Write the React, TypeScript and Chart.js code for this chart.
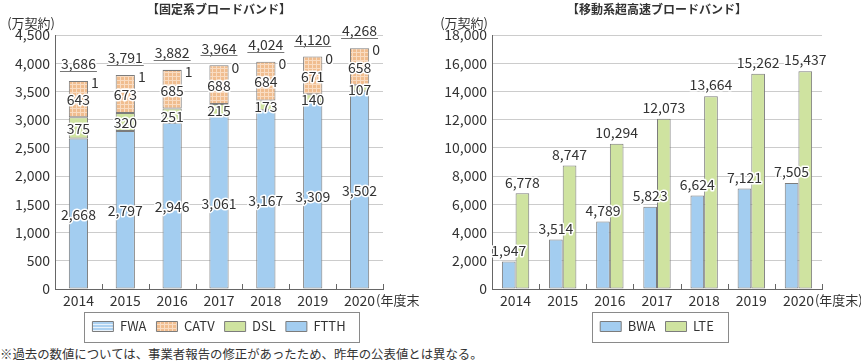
import React, { useEffect, useRef } from "react";
import { Chart, registerables } from "chart.js";

Chart.register(...registerables);

// ---------- data ----------
const years = ["2014", "2015", "2016", "2017", "2018", "2019", "2020"];
const ftth = [2668, 2797, 2946, 3061, 3167, 3309, 3502];
const dsl = [375, 320, 251, 215, 173, 140, 107];
const catv = [643, 673, 685, 688, 684, 671, 658];
const fwa = [1, 1, 1, 0, 0, 0, 0];
const fixedTotals = [3686, 3791, 3882, 3964, 4024, 4120, 4268];
const bwa = [1947, 3514, 4789, 5823, 6624, 7121, 7505];
const lte = [6778, 8747, 10294, 12073, 13664, 15262, 15437];

const fixedTitle = "【固定系ブロードバンド】";
const mobileTitle = "【移動系超高速ブロードバンド】";
const unitLabel = "(万契約)";
const xUnitLabel = "(年度末)";
const footnote =
  "※過去の数値については、事業者報告の修正があったため、昨年の公表値とは異なる。";
const fixedYMax = 4500;
const fixedYStep = 500;
const mobileYMax = 18000;
const mobileYStep = 2000;

// ---------- styles ----------
const FONT = "'Noto Sans CJK JP', 'Noto Sans', sans-serif";
const TEXT = "#333333";
const BLUE = "#a3cdf0";
const GREEN = "#cfe3a0";
const BORDER = "#7c7c7c";
const GRID = "#cccccc";
const AXIS = "#666666";

const fmt = (v: number) => v.toLocaleString("en-US");

function makePattern(kind: "check" | "stripe"): CanvasPattern | string {
  const c = document.createElement("canvas");
  const g = c.getContext("2d");
  if (!g) return kind === "check" ? "#f3c49b" : BLUE;
  if (kind === "check") {
    c.width = 4;
    c.height = 4;
    g.fillStyle = "#f0bd8f";
    g.fillRect(0, 0, 4, 4);
    g.fillStyle = "#f9dcc2";
    g.fillRect(0, 0, 4, 1);
    g.fillRect(0, 0, 1, 4);
  } else {
    c.width = 3;
    c.height = 3;
    g.fillStyle = "#acd1f1";
    g.fillRect(0, 0, 3, 3);
    g.fillStyle = "#e8f2fb";
    g.fillRect(0, 0, 3, 1);
  }
  return g.createPattern(c, "repeat") || "#f3c49b";
}

function haloText(
  ctx: CanvasRenderingContext2D,
  text: string,
  x: number,
  y: number,
  align: CanvasTextAlign = "center"
) {
  ctx.save();
  ctx.font = `14px ${FONT}`;
  ctx.textAlign = align;
  ctx.textBaseline = "middle";
  ctx.lineJoin = "round";
  ctx.strokeStyle = "#ffffff";
  ctx.lineWidth = 3;
  ctx.strokeText(text, x, y);
  ctx.fillStyle = TEXT;
  ctx.fillText(text, x, y);
  ctx.restore();
}

// decorations: inward x ticks, unit labels, legend frame
const decoPlugin = {
  id: "deco",
  afterDraw(chart: any, _args: any, opts: any) {
    const ctx: CanvasRenderingContext2D = chart.ctx;
    const xs = chart.scales.x;
    const area = chart.chartArea;
    const n = chart.data.labels.length;
    ctx.save();
    // inward tick marks at category boundaries
    ctx.strokeStyle = AXIS;
    ctx.lineWidth = 1;
    ctx.beginPath();
    for (let i = 0; i <= n; i++) {
      const x = Math.round(xs.left + (i * xs.width) / n) + 0.5;
      ctx.moveTo(x, area.bottom);
      ctx.lineTo(x, area.bottom - 5);
    }
    ctx.stroke();
    // unit label (y)
    ctx.font = `13px ${FONT}`;
    ctx.fillStyle = TEXT;
    ctx.textBaseline = "middle";
    ctx.textAlign = "right";
    ctx.fillText(opts.unit, area.left + (opts.unitDx || 0), 23);
    // x unit after last tick label
    ctx.font = `14px ${FONT}`;
    const lastLabel = String(chart.data.labels[n - 1]);
    const lastX = xs.getPixelForValue(n - 1);
    const w = ctx.measureText(lastLabel).width;
    ctx.font = `13px ${FONT}`;
    ctx.textAlign = "left";
    ctx.fillText(opts.xUnit, lastX + w / 2 + (opts.xUnitDx || 1), area.bottom + 11);
    // legend frame
    const lg = chart.legend;
    if (lg && lg.legendHitBoxes && lg.legendHitBoxes.length) {
      const hb = lg.legendHitBoxes;
      let l = Infinity, r = -Infinity, t = Infinity, b = -Infinity;
      hb.forEach((h: any) => {
        l = Math.min(l, h.left);
        r = Math.max(r, h.left + h.width);
        t = Math.min(t, h.top);
        b = Math.max(b, h.top + h.height);
      });
      const cy = (t + b) / 2;
      ctx.strokeStyle = "#8a8a8a";
      ctx.lineWidth = 1;
      ctx.strokeRect(Math.round(l - 8) + 0.5, Math.round(cy - 15) + 0.5, Math.round(r - l + 22), 30);
    }
    ctx.restore();
  },
};

const fixedLabelPlugin = {
  id: "fixedLabels",
  afterDatasetsDraw(chart: any) {
    const ctx: CanvasRenderingContext2D = chart.ctx;
    const sets = [ftth, dsl, catv];
    sets.forEach((vals, di) => {
      const meta = chart.getDatasetMeta(di);
      meta.data.forEach((el: any, j: number) => {
        haloText(ctx, fmt(vals[j]), el.x, (el.y + el.base) / 2 + 1);
      });
    });
    const metaF = chart.getDatasetMeta(3);
    metaF.data.forEach((el: any, j: number) => {
      haloText(ctx, fmt(fwa[j]), el.x + el.width / 2 + 3, el.y + 2, "left");
      const top = el.y;
      const t = fmt(fixedTotals[j]);
      haloText(ctx, t, el.x, top - 17);
      ctx.save();
      ctx.font = `14px ${FONT}`;
      const w = ctx.measureText(t).width;
      ctx.strokeStyle = "#777777";
      ctx.lineWidth = 1;
      ctx.beginPath();
      const ly = Math.round(top - 10) + 0.5;
      ctx.moveTo(el.x - w / 2 - 1, ly);
      ctx.lineTo(el.x + w / 2 + 1, ly);
      ctx.stroke();
      ctx.restore();
    });
  },
};

const mobileLabelPlugin = {
  id: "mobileLabels",
  afterDatasetsDraw(chart: any) {
    const ctx: CanvasRenderingContext2D = chart.ctx;
    [bwa, lte].forEach((vals, di) => {
      const meta = chart.getDatasetMeta(di);
      meta.data.forEach((el: any, j: number) => {
        haloText(ctx, fmt(vals[j]), el.x, el.y - 11);
      });
    });
  },
};

function baseOptions(
  title: string,
  yMax: number,
  yStep: number,
  yWidth: number,
  padRight: number,
  unitDx: number
): any {
  return {
    responsive: false,
    animation: false,
    maintainAspectRatio: false,
    layout: { padding: { left: 0, right: padRight, top: 0, bottom: 2 } },
    plugins: {
      title: {
        display: true,
        text: title,
        fullSize: false,
        color: TEXT,
        font: { family: FONT, size: 12, weight: "bold" },
        padding: { top: 2, bottom: 18.6 },
      },
      legend: {
        position: "bottom",
        fullSize: false,
        labels: {
          boxWidth: 21,
          boxHeight: 10,
          padding: 10,
          color: TEXT,
          font: { family: FONT, size: 13 },
        },
      },
      tooltip: { enabled: false },
      deco: { unit: unitLabel, xUnit: xUnitLabel, unitDx: unitDx },
    },
    scales: {
      x: {
        grid: { display: false, drawTicks: false },
        border: { display: true, color: AXIS, width: 1 },
        ticks: { color: TEXT, font: { family: FONT, size: 14 }, padding: 3, maxRotation: 0 },
        afterFit: (s: any) => {
          s.height = 21;
        },
      },
      y: {
        min: 0,
        max: yMax,
        grid: { color: GRID, drawTicks: false, lineWidth: 1 },
        border: { display: true, color: AXIS, width: 1 },
        ticks: {
          stepSize: yStep,
          color: TEXT,
          padding: 5,
          font: { family: FONT, size: 14 },
          callback: (v: any) => fmt(Number(v)),
        },
        afterFit: (s: any) => {
          s.width = yWidth;
        },
      },
    },
  };
}

function FixedChart() {
  const ref = useRef<HTMLCanvasElement>(null);
  useEffect(() => {
    if (!ref.current) return;
    const check = makePattern("check");
    const stripe = makePattern("stripe");
    const opts = baseOptions(fixedTitle, fixedYMax, fixedYStep, 55, 37, 0);
    opts.plugins.legend.reverse = true;
    opts.scales.x.stacked = true;
    opts.scales.y.stacked = true;
    const common = {
      borderColor: BORDER,
      borderWidth: 1,
      borderSkipped: false,
      categoryPercentage: 1,
      barPercentage: 0.41,
    };
    const chart = new Chart(ref.current, {
      type: "bar",
      data: {
        labels: years,
        datasets: [
          { label: "FTTH", data: ftth, backgroundColor: BLUE, ...common },
          { label: "DSL", data: dsl, backgroundColor: GREEN, ...common },
          { label: "CATV", data: catv, backgroundColor: check as any, ...common },
          { label: "FWA", data: fwa, backgroundColor: stripe as any, ...common },
        ],
      },
      options: opts,
      plugins: [decoPlugin, fixedLabelPlugin],
    });
    return () => chart.destroy();
  }, []);
  return <canvas ref={ref} width={420} height={345} style={{ position: "absolute", left: 0, top: 0 }} />;
}

function MobileChart() {
  const ref = useRef<HTMLCanvasElement>(null);
  useEffect(() => {
    if (!ref.current) return;
    const opts = baseOptions(mobileTitle, mobileYMax, mobileYStep, 72, 39, -4);
    const common = {
      borderColor: BORDER,
      borderWidth: 1,
      borderSkipped: false,
      categoryPercentage: 0.58,
      barPercentage: 1,
    };
    const chart = new Chart(ref.current, {
      type: "bar",
      data: {
        labels: years,
        datasets: [
          { label: "BWA", data: bwa, backgroundColor: BLUE, ...common },
          { label: "LTE", data: lte, backgroundColor: GREEN, ...common },
        ],
      },
      options: opts,
      plugins: [decoPlugin, mobileLabelPlugin],
    });
    return () => chart.destroy();
  }, []);
  return <canvas ref={ref} width={441} height={345} style={{ position: "absolute", left: 420, top: 0 }} />;
}

export default function App() {
  useEffect(() => {
    document.body.style.margin = "0";
  }, []);
  return (
    <div style={{ position: "relative", width: 861, height: 363, background: "#fff", overflow: "hidden" }}>
      <FixedChart />
      <MobileChart />
      <div
        style={{
          position: "absolute",
          left: 0,
          top: 346,
          fontFamily: FONT,
          fontSize: 12.4,
          color: TEXT,
          whiteSpace: "nowrap",
          lineHeight: "17px",
        }}
      >
        {footnote}
      </div>
    </div>
  );
}
